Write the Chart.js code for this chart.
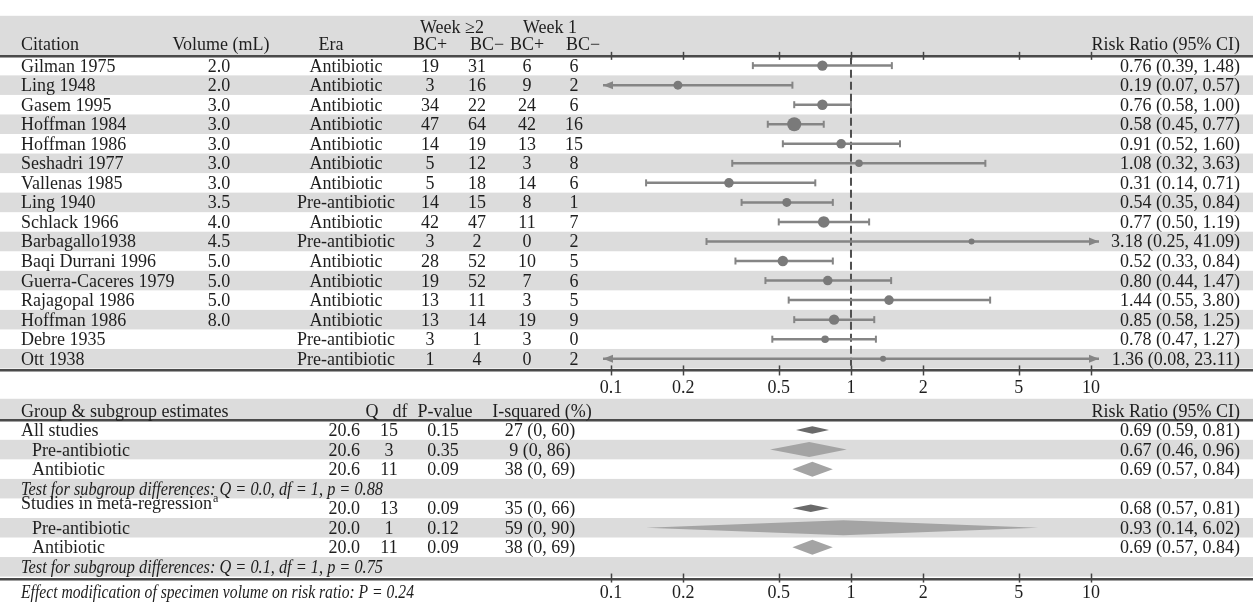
<!DOCTYPE html>
<html>
<head>
<meta charset="utf-8">
<script src="https://cdn.jsdelivr.net/npm/chart.js@4.4.0/dist/chart.umd.min.js"></script>
<style>
  body { margin: 0; background: #fff; }
  #wrap { position: relative; width: 1253px; height: 609px; }
</style>
</head>
<body>
<div id="wrap"><canvas id="forest"></canvas></div>
<script>
// study rows
var citations = ['Gilman 1975', 'Ling 1948', 'Gasem 1995', 'Hoffman 1984', 'Hoffman 1986', 'Seshadri 1977',
    'Vallenas 1985', 'Ling 1940', 'Schlack 1966', 'Barbagallo1938', 'Baqi Durrani 1996', 'Guerra-Caceres 1979',
    'Rajagopal 1986', 'Hoffman 1986', 'Debre 1935', 'Ott 1938'];
var volumes = ['2.0', '2.0', '3.0', '3.0', '3.0', '3.0', '3.0', '3.5', '4.0', '4.5', '5.0', '5.0', '5.0', '8.0', '', ''];
var eras = ['Antibiotic', 'Antibiotic', 'Antibiotic', 'Antibiotic', 'Antibiotic', 'Antibiotic', 'Antibiotic',
    'Pre-antibiotic', 'Antibiotic', 'Pre-antibiotic', 'Antibiotic', 'Antibiotic', 'Antibiotic', 'Antibiotic',
    'Pre-antibiotic', 'Pre-antibiotic'];
var week2Pos = [19, 3, 34, 47, 14, 5, 5, 14, 42, 3, 28, 19, 13, 13, 3, 1];
var week2Neg = [31, 16, 22, 64, 19, 12, 18, 15, 47, 2, 52, 52, 11, 14, 1, 4];
var week1Pos = [6, 9, 24, 42, 13, 3, 14, 8, 11, 0, 10, 7, 3, 19, 3, 0];
var week1Neg = [6, 2, 6, 16, 15, 8, 6, 1, 7, 2, 5, 6, 5, 9, 0, 2];
var riskRatio = [0.76, 0.19, 0.76, 0.58, 0.91, 1.08, 0.31, 0.54, 0.77, 3.18, 0.52, 0.80, 1.44, 0.85, 0.78, 1.36];
var ciLow = [0.39, 0.07, 0.58, 0.45, 0.52, 0.32, 0.14, 0.35, 0.50, 0.25, 0.33, 0.44, 0.55, 0.58, 0.47, 0.08];
var ciHigh = [1.48, 0.57, 1.00, 0.77, 1.60, 3.63, 0.71, 0.84, 1.19, 41.09, 0.84, 1.47, 3.80, 1.25, 1.27, 23.11];
var studyWeight = [5.2, 4.5, 5.2, 7, 4.8, 3.8, 4.8, 4.5, 5.8, 3, 5.2, 4.8, 4.8, 5.2, 3.8, 3]; // marker radius

// group & subgroup estimates
var groupLabels = ['All studies', 'Pre-antibiotic', 'Antibiotic',
    'Test for subgroup differences: Q = 0.0, df = 1, p = 0.88',
    'Studies in meta-regression', 'Pre-antibiotic', 'Antibiotic',
    'Test for subgroup differences: Q = 0.1, df = 1, p = 0.75'];
var groupKind = ['overall', 'subgroup', 'subgroup', 'test', 'overall', 'subgroup', 'subgroup', 'test'];
var groupQ = [20.6, 20.6, 20.6, null, 20.0, 20.0, 20.0, null];
var groupDf = [15, 3, 11, null, 13, 1, 11, null];
var groupP = [0.15, 0.35, 0.09, null, 0.09, 0.12, 0.09, null];
var groupI2 = ['27 (0, 60)', '9 (0, 86)', '38 (0, 69)', '', '35 (0, 66)', '59 (0, 90)', '38 (0, 69)', ''];
var groupRR = [0.69, 0.67, 0.69, null, 0.68, 0.93, 0.69, null];
var groupLow = [0.59, 0.46, 0.57, null, 0.57, 0.14, 0.57, null];
var groupHigh = [0.81, 0.96, 0.84, null, 0.81, 6.02, 0.84, null];
var effectNote = 'Effect modification of specimen volume on risk ratio: P = 0.24';

var axisTicks = [0.1, 0.2, 0.5, 1, 2, 5, 10];

// layout, in table rows on the y scale
var headTop = -2.55, headLine = -0.5;
var axisLine = 15.6, axisLabels = 16.45;
var subHeadTop = 17.05, subHeadText = 17.7, subHeadLine = 18.15;
var subFirst = 18.65;
var bottomLine = 26.25, bottomLabels = 26.95;

var ink = '#1e1e1e';
var bandGray = '#dcdcdc';
var baseFont = '18px "Liberation Serif"';
var italicFont = 'italic 18px "Liberation Serif"';

function rrText(r, lo, hi) {
    return r.toFixed(2) + ' (' + lo.toFixed(2) + ', ' + hi.toFixed(2) + ')';
}

var forestPlugin = {
    id: 'forest',
    beforeDatasetsDraw: function (chart) {
        var ctx = chart.ctx, xs = chart.scales.x, ys = chart.scales.y;
        var W = chart.width;
        function py(v) { return ys.getPixelForValue(v); }
        function px(v) { return xs.getPixelForValue(v); }
        function band(a, b) {
            ctx.fillStyle = bandGray;
            ctx.fillRect(0, py(a), W, py(b) - py(a));
        }
        function rule(v) {
            var y = Math.round(py(v));
            ctx.fillStyle = '#4a4a4a';
            ctx.fillRect(0, y - 1, W, 2);
            ctx.fillStyle = '#a0a0a0';
            ctx.fillRect(0, y + 1, W, 1);
        }
        function ticks(v, up, down) {
            var y = py(v);
            ctx.strokeStyle = '#444';
            ctx.lineWidth = 1.5;
            axisTicks.forEach(function (t) {
                var x = Math.round(px(t)) + 0.5;
                ctx.beginPath();
                ctx.moveTo(x, y - up);
                ctx.lineTo(x, y + down);
                ctx.stroke();
            });
        }
        function label(s, x, v, align, font, maxW) {
            ctx.font = font || baseFont;
            ctx.textAlign = align || 'left';
            ctx.textBaseline = 'alphabetic';
            ctx.fillStyle = ink;
            if (maxW) ctx.fillText(s, x, py(v) + 6, maxW);
            else ctx.fillText(s, x, py(v) + 6);
        }
        function arrow(xTip, y, dir) {
            ctx.beginPath();
            ctx.moveTo(xTip, y);
            ctx.lineTo(xTip + dir * 10, y - 4);
            ctx.lineTo(xTip + dir * 10, y + 4);
            ctx.closePath();
            ctx.fill();
        }

        ctx.save();

        // shaded bands
        band(headTop, headLine);
        citations.forEach(function (c, i) { if (i % 2 === 1) band(i - 0.5, i + 0.5); });
        band(subHeadTop, subHeadLine);
        groupLabels.forEach(function (g, j) {
            if (j % 2 === 1) band(subFirst + j - 0.5, subFirst + j + 0.5);
        });

        // rules and ticks
        rule(headLine); rule(axisLine); rule(subHeadLine); rule(bottomLine);
        ticks(headLine, 4, 4);
        ticks(axisLine, 5, 5);
        ticks(bottomLine, 5, 4);

        // null line at RR = 1
        ctx.strokeStyle = '#505050';
        ctx.lineWidth = 2;
        ctx.setLineDash([8, 4]);
        ctx.beginPath();
        ctx.moveTo(px(1), py(headLine) + 2);
        ctx.lineTo(px(1), py(axisLine) - 2);
        ctx.stroke();
        ctx.setLineDash([]);

        // confidence intervals
        ctx.strokeStyle = '#858585';
        ctx.fillStyle = '#858585';
        citations.forEach(function (c, i) {
            var y = py(i);
            var lo = Math.max(ciLow[i], xs.min), hi = Math.min(ciHigh[i], xs.max);
            var x0 = px(lo), x1 = px(hi);
            ctx.lineWidth = 2.5;
            ctx.beginPath();
            ctx.moveTo(x0, y);
            ctx.lineTo(x1, y);
            ctx.stroke();
            ctx.lineWidth = 2;
            if (ciLow[i] < xs.min) arrow(x0, y, 1);
            else { ctx.beginPath(); ctx.moveTo(x0, y - 3.5); ctx.lineTo(x0, y + 3.5); ctx.stroke(); }
            if (ciHigh[i] > xs.max) arrow(x1, y, -1);
            else { ctx.beginPath(); ctx.moveTo(x1, y - 3.5); ctx.lineTo(x1, y + 3.5); ctx.stroke(); }
        });

        // pooled diamonds
        groupRR.forEach(function (r, j) {
            if (r === null) return;
            var y = py(subFirst + j);
            var h = groupKind[j] === 'overall' ? 3.8 : 7.5;
            ctx.fillStyle = groupKind[j] === 'overall' ? '#6a6a6a' : '#a4a4a4';
            ctx.beginPath();
            ctx.moveTo(px(groupLow[j]), y);
            ctx.lineTo(px(r), y - h);
            ctx.lineTo(px(groupHigh[j]), y);
            ctx.lineTo(px(r), y + h);
            ctx.closePath();
            ctx.fill();
        });

        // header text
        label('Week \u22652', 452, -2.0, 'center');
        label('Week 1', 550, -2.0, 'center');
        label('Citation', 21, -1.1);
        label('Volume (mL)', 221, -1.1, 'center');
        label('Era', 331, -1.1, 'center');
        label('BC+', 430, -1.1, 'center');
        label('BC\u2212', 487, -1.1, 'center');
        label('BC+', 527, -1.1, 'center');
        label('BC\u2212', 583, -1.1, 'center');
        label('Risk Ratio (95% CI)', 1240, -1.1, 'right');

        // study table
        citations.forEach(function (c, i) {
            label(c, 21, i);
            label(volumes[i], 219, i, 'center');
            label(eras[i], 346, i, 'center');
            label(String(week2Pos[i]), 430, i, 'center');
            label(String(week2Neg[i]), 477, i, 'center');
            label(String(week1Pos[i]), 527, i, 'center');
            label(String(week1Neg[i]), 574, i, 'center');
            label(rrText(riskRatio[i], ciLow[i], ciHigh[i]), 1240, i, 'right');
        });

        // axis labels
        axisTicks.forEach(function (t) {
            label(String(t), px(t), axisLabels, 'center');
            label(String(t), px(t), bottomLabels, 'center');
        });

        // group table
        label('Group & subgroup estimates', 21, subHeadText);
        label('Q', 372, subHeadText, 'center');
        label('df', 400, subHeadText, 'center');
        label('P-value', 445, subHeadText, 'center');
        label('I-squared (%)', 542, subHeadText, 'center');
        label('Risk Ratio (95% CI)', 1240, subHeadText, 'right');

        groupLabels.forEach(function (g, j) {
            var v = subFirst + j;
            if (groupKind[j] === 'test') {
                label(g, 21, v, 'left', italicFont, 362);
                return;
            }
            if (groupKind[j] === 'overall') {
                label(g, 21, v - (j > 0 ? 0.25 : 0));
                if (j > 0) {
                    ctx.font = baseFont;
                    var w = ctx.measureText(g).width;
                    label('a', 21 + w + 1, v - 0.6, 'left', '12px "Liberation Serif"');
                }
            } else {
                label(g, 32, v);
            }
            label(groupQ[j].toFixed(1), 360, v, 'right');
            label(String(groupDf[j]), 389, v, 'center');
            label(groupP[j].toFixed(2), 443, v, 'center');
            label(groupI2[j], 540, v, 'center');
            label(rrText(groupRR[j], groupLow[j], groupHigh[j]), 1240, v, 'right');
        });

        label(effectNote, 21, bottomLabels, 'left', italicFont, 393);

        ctx.restore();
    }
};

var canvas = document.getElementById('forest');

var chart = new Chart(canvas, {
    type: 'scatter',
    data: {
        datasets: [{
            label: 'Risk ratio',
            data: riskRatio.map(function (r, i) { return { x: r, y: i }; }),
            pointRadius: studyWeight,
            pointHoverRadius: studyWeight,
            pointBackgroundColor: '#7a7a7a',
            pointBorderWidth: 0
        }]
    },
    options: {
        responsive: true,
        maintainAspectRatio: false,
        animation: false,
        events: [],
        layout: { padding: { left: 603, right: 154, top: 0, bottom: 0 } },
        plugins: {
            legend: { display: false },
            tooltip: { enabled: false }
        },
        scales: {
            x: { type: 'logarithmic', min: 0.0926, max: 10.8, bounds: 'data', display: false },
            y: { type: 'linear', reverse: true, min: -3, max: 27.45, bounds: 'data', display: false }
        }
    },
    plugins: [forestPlugin]
});
</script>
</body>
</html>
